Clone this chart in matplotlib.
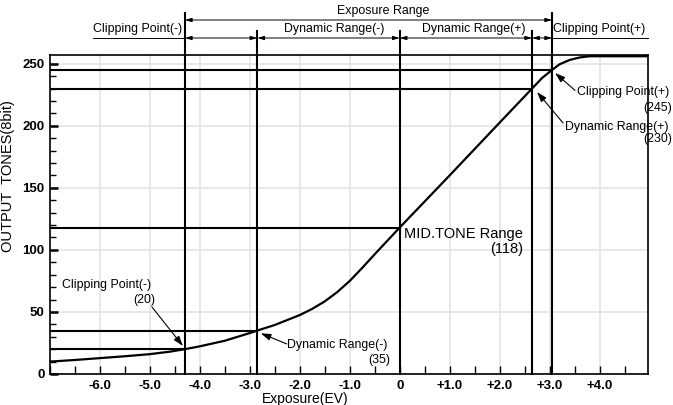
import matplotlib
matplotlib.use('Agg')
import matplotlib.pyplot as plt
from matplotlib.ticker import MultipleLocator, FixedLocator, FuncFormatter

plt.rcParams['font.family'] = ['Liberation Sans', 'DejaVu Sans']

# tone curve
curve_ev = [-7.0, -6.5, -6.0, -5.5, -5.0, -4.6, -4.3, -4.0, -3.5, -3.0, -2.85, -2.5, -2.0,
            -1.75, -1.5, -1.25, -1.0, -0.75, -0.5, 0.0, 1.0, 2.0, 2.65, 2.85, 3.05, 3.2, 3.4,
            3.6, 3.8, 4.97]
curve_tone = [10, 11.3, 12.8, 14.3, 16, 18, 20, 22.3, 26.8, 33, 35, 39.5, 47.5,
              52.5, 58.5, 66, 75, 85.5, 96.5, 118, 160, 202.5, 230, 238.5, 245, 249.5, 253,
              255, 256, 256]

# marked points
point_ev = [-4.3, -2.85, 0.0, 2.65, 3.05]
point_tone = [20, 35, 118, 230, 245]

range_labels = ['Clipping Point(-)', 'Dynamic Range(-)', 'Dynamic Range(+)', 'Clipping Point(+)']
x_ticks = [-6, -5, -4, -3, -2, -1, 0, 1, 2, 3, 4]
y_ticks = [0, 50, 100, 150, 200, 250]

fig = plt.figure(figsize=(6.73, 4.05), dpi=100)
ax = fig.add_axes([50 / 673, 31 / 405, 598 / 673, 319 / 405])

x_min, x_max = -7.0, 4.97
ax.set_xlim(x_min, x_max)
ax.set_ylim(0, 257)

ax.xaxis.set_major_locator(FixedLocator(x_ticks))
ax.xaxis.set_minor_locator(MultipleLocator(0.5))
ax.yaxis.set_major_locator(FixedLocator(y_ticks))
ax.yaxis.set_minor_locator(MultipleLocator(10))


def ev_fmt(v, pos):
    if abs(v) < 1e-9:
        return '0'
    return f'{v:+.1f}'


ax.xaxis.set_major_formatter(FuncFormatter(ev_fmt))
ax.grid(True, which='major', color='#e2e2e2', lw=1.1, zorder=0)
ax.tick_params(axis='both', which='both', direction='in', colors='black')
ax.tick_params(axis='x', which='both', length=6, width=1, pad=4, labelsize=9.5)
ax.tick_params(axis='y', which='major', length=6, width=1.8, pad=4, labelsize=9.5)
ax.tick_params(axis='y', which='minor', length=4, width=1)
for lab in ax.get_xticklabels() + ax.get_yticklabels():
    lab.set_fontweight('bold')
for sp in ax.spines.values():
    sp.set_linewidth(1.2)

# curve
ax.plot(curve_ev, curve_tone, color='black', lw=1.6, zorder=4, solid_capstyle='butt')

# guide lines
top_outer, top_inner = 290.8, 276.3
for i, (ev, tone) in enumerate(zip(point_ev, point_tone)):
    ax.plot([x_min, ev], [tone, tone], color='black', lw=1.5, zorder=3)
    top = top_outer if i in (0, len(point_ev) - 1) else top_inner
    ax.plot([ev, ev], [0, top], color='black', lw=1.5, zorder=3, clip_on=False)

# top range annotations
small = 8.9
rng_arrow = dict(arrowstyle='<|-|>,head_length=0.5,head_width=0.15', color='black', lw=0.7,
                 shrinkA=0, shrinkB=0, mutation_scale=8)
ax.annotate('', xy=(point_ev[0], 285.2), xytext=(point_ev[-1], 285.2), arrowprops=rng_arrow,
            annotation_clip=False)
ax.text(-0.33, 292.4, 'Exposure Range', ha='center', va='center', fontsize=small, clip_on=False)

row_y, text_y = 270.7, 277.6
for a, b in zip(point_ev[:-1], point_ev[1:]):
    ax.annotate('', xy=(a, row_y), xytext=(b, row_y), arrowprops=rng_arrow, annotation_clip=False)
ax.plot([-6.14, point_ev[0]], [row_y, row_y], color='black', lw=0.7, clip_on=False)
ax.plot([point_ev[-1], x_max], [row_y, row_y], color='black', lw=0.7, clip_on=False)
for label, cx in zip(range_labels, [-5.25, -1.31, 1.48, 4.0]):
    ax.text(cx, text_y, label, ha='center', va='center', fontsize=small, clip_on=False)

# point annotations
pt_arrow = dict(arrowstyle='-|>,head_length=0.6,head_width=0.2', color='black', lw=0.8,
                shrinkA=0, shrinkB=0, mutation_scale=10)
ax.annotate('', xy=(3.11, 242.5), xytext=(3.51, 228.5), arrowprops=pt_arrow)
ax.text(3.55, 227.2, 'Clipping Point(+)', ha='left', va='center', fontsize=small)
ax.text(5.46, 214.3, '(245)', ha='right', va='center', fontsize=small, clip_on=False)

ax.annotate('', xy=(2.75, 227.2), xytext=(3.27, 202.2), arrowprops=pt_arrow)
ax.text(3.3, 199.0, 'Dynamic Range(+)', ha='left', va='center', fontsize=small)
ax.text(5.46, 189.3, '(230)', ha='right', va='center', fontsize=small, clip_on=False)

ax.text(0.09, 118.5, 'MID.TONE Range\n(118)', ha='left', va='top', fontsize=10.5,
        multialignment='right', linespacing=1.1)

ax.annotate('', xy=(-4.34, 22.6), xytext=(-4.96, 54.0), arrowprops=pt_arrow)
ax.text(-6.76, 71.7, 'Clipping Point(-)', ha='left', va='center', fontsize=small)
ax.text(-5.34, 59.6, '(20)', ha='left', va='center', fontsize=small)

ax.annotate('', xy=(-2.78, 32.8), xytext=(-2.26, 24.2), arrowprops=pt_arrow)
ax.text(-2.25, 23.4, 'Dynamic Range(-)', ha='left', va='center', fontsize=small)
ax.text(-0.19, 11.3, '(35)', ha='right', va='center', fontsize=small)

ax.set_xlabel('Exposure(EV)', fontsize=10)
ax.xaxis.set_label_coords(0.426, -0.055)
ax.set_ylabel('OUTPUT  TONES(8bit)', fontsize=10.5)
ax.yaxis.set_label_coords(-0.058, 0.62)

fig.savefig('out.png', dpi=100)
